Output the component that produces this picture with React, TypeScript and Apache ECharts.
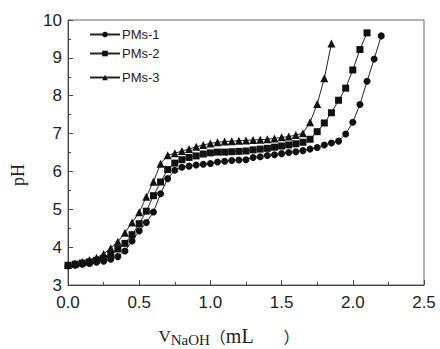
import React, { useEffect, useRef } from "react";
import * as echarts from "echarts";

const volumes = [0, 0.05, 0.1, 0.15, 0.2, 0.25, 0.3, 0.35, 0.4, 0.45, 0.5, 0.55, 0.6, 0.65, 0.7, 0.75, 0.8, 0.85, 0.9, 0.95, 1.0, 1.05, 1.1, 1.15, 1.2, 1.25, 1.3, 1.35, 1.4, 1.45, 1.5, 1.55, 1.6, 1.65, 1.7, 1.75, 1.8, 1.85, 1.9, 1.95, 2.0, 2.05, 2.1, 2.15, 2.2];

const pms1 = [3.50, 3.52, 3.55, 3.57, 3.60, 3.63, 3.68, 3.75, 3.90, 4.16, 4.43, 4.65, 4.93, 5.41, 5.81, 6.03, 6.11, 6.14, 6.17, 6.19, 6.21, 6.25, 6.27, 6.29, 6.30, 6.31, 6.37, 6.39, 6.42, 6.44, 6.47, 6.50, 6.52, 6.55, 6.59, 6.63, 6.70, 6.75, 6.80, 6.99, 7.30, 7.77, 8.38, 8.97, 9.58];
const pms2 = [3.52, 3.55, 3.58, 3.61, 3.65, 3.70, 3.80, 3.95, 4.10, 4.33, 4.62, 4.95, 5.36, 5.72, 6.05, 6.22, 6.31, 6.37, 6.41, 6.46, 6.49, 6.51, 6.51, 6.52, 6.53, 6.54, 6.57, 6.59, 6.61, 6.64, 6.67, 6.70, 6.73, 6.77, 6.85, 7.05, 7.28, 7.55, 7.88, 8.20, 8.68, 9.22, 9.66];
const pms3 = [3.53, 3.57, 3.61, 3.66, 3.72, 3.82, 3.97, 4.14, 4.38, 4.65, 4.92, 5.33, 5.73, 6.20, 6.43, 6.48, 6.54, 6.59, 6.65, 6.70, 6.74, 6.77, 6.79, 6.80, 6.81, 6.82, 6.83, 6.84, 6.85, 6.87, 6.90, 6.92, 6.96, 7.01, 7.30, 7.78, 8.46, 9.38];

const seriesNames = ["PMs-1", "PMs-2", "PMs-3"];
const seriesSymbols = ["circle", "rect", "triangle"];
const seriesValues = [pms1, pms2, pms3];

const xTicks = ["0.0", "0.5", "1.0", "1.5", "2.0", "2.5"];

const SANS = "Liberation Sans, Arial, sans-serif";
const SERIF = "Liberation Serif, Times New Roman, serif";
const CJK = "Noto Sans CJK SC, sans-serif";

export default function App() {
  const ref = useRef<HTMLDivElement>(null);
  useEffect(() => {
    if (!ref.current) return;
    const chart = echarts.init(ref.current, undefined, { renderer: "svg" });
    const legendTops = [28, 47, 71];
    chart.setOption({
      animation: false,
      backgroundColor: "#fff",
      grid: {
        left: 68,
        right: 16,
        top: 20,
        bottom: 64,
        show: true,
        borderColor: "#666",
        borderWidth: 1,
        containLabel: false,
        outerBoundsMode: "none",
      },
      legend: seriesNames.map((n, i) => ({
        data: [n],
        left: 89,
        top: legendTops[i],
        padding: 0,
        itemWidth: 30,
        itemHeight: 7,
        itemGap: 0,
        textStyle: { fontFamily: SANS, fontSize: 13, color: "#222", padding: [0, 0, 0, -3] },
      })),
      xAxis: {
        type: "value",
        min: 0,
        max: 2.5,
        interval: 0.5,
        name: "{v|V}{sub|NaOH}{p|（}{u|mL}{q|）}",
        nameLocation: "middle",
        nameGap: 40,
        nameTruncate: { maxWidth: 400 },
        nameTextStyle: {
          padding: [0, 34, 0, 0],
          rich: {
            v: { fontFamily: SERIF, fontSize: 17, color: "#222" },
            sub: { fontFamily: SERIF, fontSize: 15, color: "#222", padding: [7, 0, 0, 0] },
            p: { fontFamily: CJK, fontSize: 16, color: "#222" },
            u: { fontFamily: SERIF, fontSize: 20, color: "#222" },
            q: { fontFamily: CJK, fontSize: 16, color: "#222", padding: [0, 0, 0, 30] },
          },
        },
        axisLine: { onZero: false, lineStyle: { color: "#444", width: 1 } },
        axisTick: { inside: true, length: 5, lineStyle: { color: "#444" } },
        minorTick: { show: true, splitNumber: 2, length: 3, lineStyle: { color: "#444" } },
        splitLine: { show: false },
        axisLabel: {
          fontFamily: SANS,
          fontSize: 17,
          color: "#222",
          margin: 9,
          formatter: (v: number) => xTicks[Math.round(v / 0.5)] ?? String(v),
        },
      },
      yAxis: {
        type: "value",
        min: 3,
        max: 10,
        interval: 1,
        axisLine: { show: true, onZero: false, lineStyle: { color: "#444", width: 1 } },
        axisTick: { show: true, inside: true, length: 5, lineStyle: { color: "#444" } },
        minorTick: { show: true, splitNumber: 2, length: 3, lineStyle: { color: "#444" } },
        splitLine: { show: false },
        axisLabel: { fontFamily: SANS, fontSize: 17, color: "#222", margin: 6 },
      },
      graphic: [
        {
          type: "text",
          x: 18,
          y: 175,
          rotation: Math.PI / 2,
          style: {
            text: "pH",
            fontFamily: SERIF,
            fontSize: 18,
            fill: "#222",
            align: "center",
            verticalAlign: "middle",
          },
        },
      ],
      series: seriesNames.map((n, i) => ({
        name: n,
        type: "line",
        symbol: seriesSymbols[i],
        symbolSize: i === 2 ? 8 : 7,
        data: seriesValues[i].map((y, k) => [volumes[k], y]),
        itemStyle: { color: "#111" },
        lineStyle: { color: "#222", width: 1 },
      })),
    });
    return () => chart.dispose();
  }, []);
  return (
    <div
      ref={ref}
      style={{ position: "fixed", left: 0, top: 0, width: 440, height: 349 }}
    />
  );
}
